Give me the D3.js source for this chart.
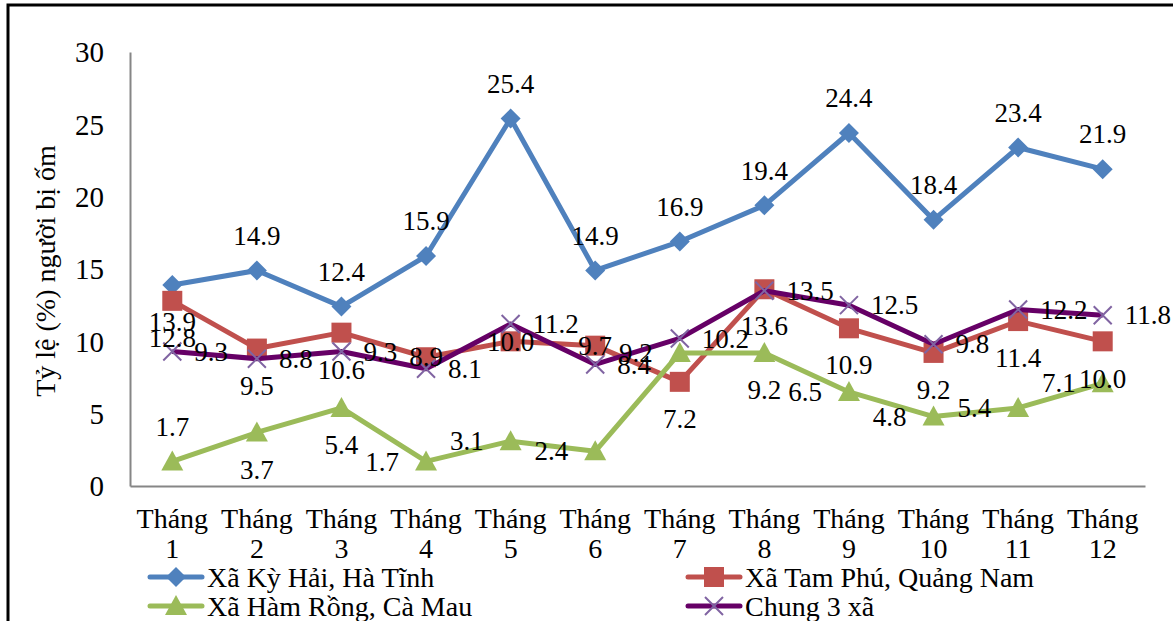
<!DOCTYPE html>
<html>
<head>
<meta charset="utf-8">
<script src="https://cdn.jsdelivr.net/npm/d3@7"></script>
<style>
  html, body { margin: 0; padding: 0; background: #fff; }
  svg { display: block; }
</style>
</head>
<body>
<svg id="chart" width="1173" height="621"></svg>
<script>
// Monthly share of sick people (%) in three communes and overall
const months = ["1", "2", "3", "4", "5", "6", "7", "8", "9", "10", "11", "12"];
const yTicks = [0, 5, 10, 15, 20, 25, 30];

const kyHai   = [13.9, 14.9, 12.4, 15.9, 25.4, 14.9, 16.9, 19.4, 24.4, 18.4, 23.4, 21.9];
const tamPhu  = [12.8, 9.5, 10.6, 8.9, 10.0, 9.7, 7.2, 13.6, 10.9, 9.2, 11.4, 10.0];
const hamRong = [1.7, 3.7, 5.4, 1.7, 3.1, 2.4, 9.2, 9.2, 6.5, 4.8, 5.4, 7.1];
const chung   = [9.3, 8.8, 9.3, 8.1, 11.2, 8.4, 10.2, 13.5, 12.5, 9.8, 12.2, 11.8];

// Where each value label sits relative to its point
const kyHaiPos   = ["b","a","a","a","a","a","a","a","a","a","a","a"];
const tamPhuPos  = ["b","b","b","c","c","c","b","b","b","b","b","b"];
const hamRongPos = ["a","b","b","l","l","l","l","b","l","l","l","l"];
const chungPos   = ["r","r","r","r","r","r","r","r","r","r","r","r"];

const series = [
  { name: "Xã Kỳ Hải, Hà Tĩnh", values: kyHai, pos: kyHaiPos, line: "#4F81BD", marker: "diamond", mcolor: "#4F81BD" },
  { name: "Xã Tam Phú, Quảng Nam", values: tamPhu, pos: tamPhuPos, line: "#C0504D", marker: "square", mcolor: "#C0504D" },
  { name: "Xã Hàm Rồng, Cà Mau", values: hamRong, pos: hamRongPos, line: "#9BBB59", marker: "triangle", mcolor: "#9BBB59" },
  { name: "Chung 3 xã", values: chung, pos: chungPos, line: "#660066", marker: "x", mcolor: "#8064A2" }
];

const svg = d3.select("#chart");
const serif = "'Liberation Serif', 'Times New Roman', serif";

// outer frame
svg.append("rect")
  .attr("x", 8).attr("y", 5).attr("width", 1200).attr("height", 700)
  .attr("fill", "none").attr("stroke", "#000").attr("stroke-width", 3);

const plot = { left: 130, right: 1145, top: 52, bottom: 486 };

const x = d3.scaleBand().domain(months).range([plot.left, plot.right]);
const cx = m => x(m) + x.bandwidth() / 2;
const y = d3.scaleLinear().domain([0, 30]).range([plot.bottom, plot.top]);

// y axis
const yAxis = d3.axisLeft(y).tickValues(yTicks).tickSize(0).tickPadding(26);
const gy = svg.append("g").attr("transform", `translate(${plot.left},0)`).call(yAxis);
gy.select(".domain").attr("stroke", "#868686").attr("stroke-width", 2);
gy.selectAll("text")
  .attr("font-family", serif).attr("font-size", 29).attr("fill", "#000")
  .attr("dy", "0.34em");

// x axis
const xAxis = d3.axisBottom(x).tickSize(0).tickFormat("");
const gx = svg.append("g").attr("transform", `translate(0,${plot.bottom})`).call(xAxis);
gx.select(".domain").attr("stroke", "#868686").attr("stroke-width", 2);
gx.selectAll(".tick").each(function(d) {
  const t = d3.select(this).append("text")
    .attr("font-family", serif).attr("font-size", 28).attr("fill", "#000")
    .attr("text-anchor", "middle");
  t.append("tspan").attr("x", 0).attr("y", 42).text("Tháng");
  t.append("tspan").attr("x", 0).attr("y", 72).text(d);
});

// y axis title
svg.append("text")
  .attr("transform", `translate(55,${(plot.top + plot.bottom) / 2 + 2}) rotate(-90)`)
  .attr("text-anchor", "middle")
  .attr("font-family", serif).attr("font-size", 28).attr("fill", "#000")
  .text("Tỷ lệ (%) người bị ốm");

function drawMarker(g, type, color, px, py) {
  if (type === "diamond") {
    g.append("path").attr("d", `M${px},${py - 10}L${px + 10},${py}L${px},${py + 10}L${px - 10},${py}Z`)
      .attr("fill", color);
  } else if (type === "square") {
    g.append("rect").attr("x", px - 10).attr("y", py - 10).attr("width", 20).attr("height", 20)
      .attr("fill", color);
  } else if (type === "triangle") {
    g.append("path").attr("d", `M${px},${py - 11}L${px + 11},${py + 9}L${px - 11},${py + 9}Z`)
      .attr("fill", color);
  } else {
    g.append("path").attr("d", `M${px - 9},${py - 9}L${px + 9},${py + 9}M${px - 9},${py + 9}L${px + 9},${py - 9}`)
      .attr("stroke", color).attr("stroke-width", 2).attr("fill", "none");
  }
}

const line = d3.line().x((d, i) => cx(months[i])).y(d => y(d));

series.forEach(s => {
  const g = svg.append("g");
  g.append("path").datum(s.values).attr("d", line)
    .attr("fill", "none").attr("stroke", s.line).attr("stroke-width", 5)
    .attr("stroke-linejoin", "round");
  s.values.forEach((v, i) => drawMarker(g, s.marker, s.mcolor, cx(months[i]), y(v)));
});

// value labels
const labels = svg.append("g");
series.forEach(s => {
  s.values.forEach((v, i) => {
    const px = cx(months[i]), py = y(v);
    let tx = px, ty = py, anchor = "middle";
    const p = s.pos[i];
    if (p === "a") ty = py - 35;
    else if (p === "b") ty = py + 37;
    else if (p === "r") { tx = px + 22; anchor = "start"; }
    else if (p === "l") { tx = px - 27; anchor = "end"; }
    labels.append("text")
      .attr("x", tx).attr("y", ty).attr("dy", "0.34em")
      .attr("text-anchor", anchor)
      .attr("font-family", serif).attr("font-size", 27).attr("fill", "#000")
      .text(v.toFixed(1));
  });
});

// legend
const legendItems = [
  { s: series[0], x: 150, y: 577 },
  { s: series[1], x: 688, y: 577 },
  { s: series[2], x: 150, y: 606 },
  { s: series[3], x: 688, y: 606 }
];
legendItems.forEach(it => {
  const g = svg.append("g");
  g.append("line").attr("x1", it.x).attr("x2", it.x + 52).attr("y1", it.y).attr("y2", it.y)
    .attr("stroke", it.s.line).attr("stroke-width", 5).attr("stroke-linecap", "round");
  drawMarker(g, it.s.marker, it.s.mcolor, it.x + 26, it.y);
  g.append("text").attr("x", it.x + 57).attr("y", it.y).attr("dy", "0.34em")
    .attr("font-family", serif).attr("font-size", 28).attr("fill", "#000")
    .text(it.s.name);
});
</script>
</body>
</html>
